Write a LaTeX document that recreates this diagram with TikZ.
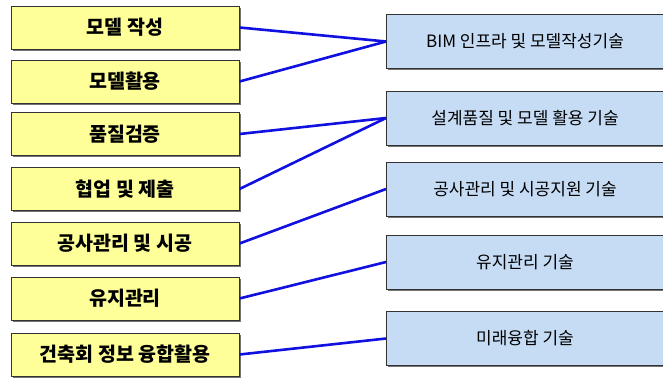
\documentclass[tikz,border=0pt]{standalone}
\usepackage{fontspec}
\setmainfont{Noto Sans CJK KR}
\usetikzlibrary{shadows}
\definecolor{lyel}{HTML}{FFFF99}
\definecolor{lblu}{HTML}{C6DCF5}
\definecolor{bord}{HTML}{333333}
\definecolor{lnblue}{HTML}{1010E0}
\begin{document}
\begin{tikzpicture}[x=1pt,y=-1pt,
  lbox/.style={draw=bord,line width=1pt,fill=lyel,minimum width=228pt,minimum height=43pt,inner sep=0pt,
    font=\fontsize{19.5}{22}\selectfont\bfseries,
    drop shadow={shadow xshift=1.5pt,shadow yshift=-1.5pt,fill=black,opacity=0.55}},
  rbox/.style={draw=bord,line width=1pt,fill=lblu,minimum width=279pt,minimum height=54pt,inner sep=0pt,
    font=\fontsize{17}{19}\selectfont,
    drop shadow={shadow xshift=1.5pt,shadow yshift=-1.5pt,fill=black,opacity=0.55}},
  link/.style={draw=lnblue,line width=2.6pt}]
\useasboundingbox (0,0) rectangle (663,378);
\begin{scope}
\clip (0,0) rectangle (663,378);
\node[lbox] (l1) at (125,27.5) {모델 작성};
\node[lbox] (l2) at (125,81.5) {모델활용};
\node[lbox] (l3) at (125,134) {품질검증};
\node[lbox] (l4) at (125,189) {협업 및 제출};
\node[lbox] (l5) at (125,243.5) {공사관리 및 시공};
\node[lbox] (l6) at (125,298.5) {유지관리};
\node[lbox] (l7) at (125,354.5) {건축회 정보 융합활용};
\node[rbox] (r1) at (526,41.5) {\hspace*{-2pt}BIM 인프라 및 모델작성기술};
\node[rbox] (r2) at (526,118) {\hspace*{-2pt}설계품질 및 모델 활용 기술};
\node[rbox] (r3) at (526,189) {\hspace*{-2pt}공사관리 및 시공지원 기술};
\node[rbox] (r4) at (526,262) {\hspace*{-2pt}유지관리 기술};
\node[rbox] (r5) at (526,338.5) {\hspace*{-2pt}미래융합 기술};
\draw[link] (l1.east) -- (r1.west);
\draw[link] (l2.east) -- (r1.west);
\draw[link] (l3.east) -- (r2.west);
\draw[link] (l4.east) -- (r2.west);
\draw[link] (l5.east) -- (r3.west);
\draw[link] (l6.east) -- (r4.west);
\draw[link] (l7.east) -- (r5.west);
\end{scope}
\end{tikzpicture}
\end{document}
